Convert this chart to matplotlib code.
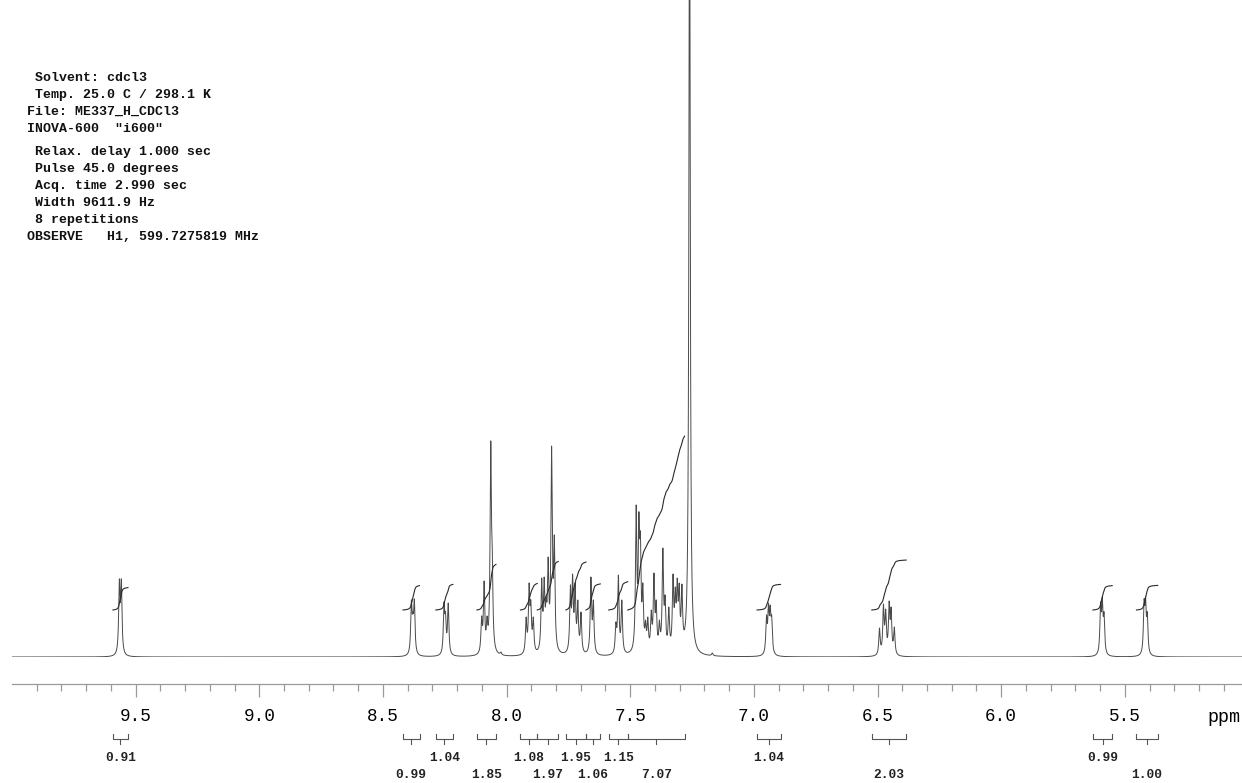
import numpy as np
import matplotlib
matplotlib.use('Agg')
import matplotlib.pyplot as plt
from matplotlib.transforms import blended_transform_factory

plt.rcParams['font.family'] = ['Liberation Mono', 'DejaVu Sans Mono']

# acquisition parameters printed in the top-left corner
header_lines = [
    ' Solvent: cdcl3',
    ' Temp. 25.0 C / 298.1 K',
    'File: ME337_H_CDCl3',
    'INOVA-600  "i600"',
    ' Relax. delay 1.000 sec',
    ' Pulse 45.0 degrees',
    ' Acq. time 2.990 sec',
    ' Width 9611.9 Hz',
    ' 8 repetitions',
    'OBSERVE   H1, 599.7275819 MHz',
]
header_y = [78, 95, 112, 129, 152, 169, 186, 203, 220, 237]  # px from top

# peak list: shift (ppm) and apparent height (px above baseline)
shifts = [
    9.566, 9.558,
    8.385, 8.379, 8.373,
    8.253, 8.247, 8.236,
    8.101, 8.091, 8.079, 8.064, 8.058, 8.023,
    7.921, 7.909, 7.902, 7.892,
    7.858, 7.848, 7.840, 7.832, 7.818, 7.807,
    7.742, 7.733, 7.723, 7.712, 7.699,
    7.659, 7.649,
    7.558, 7.548, 7.534,
    7.476, 7.465, 7.459, 7.449, 7.438, 7.429, 7.415, 7.404, 7.395,
    7.382, 7.368, 7.359, 7.344, 7.327, 7.318, 7.310, 7.302, 7.291,
    7.260, 7.168,
    6.949, 6.941, 6.934, 6.928,
    6.492, 6.476, 6.467, 6.453, 6.445, 6.432,
    5.598, 5.591, 5.584,
    5.422, 5.416, 5.409,
]
heights = [
    78, 78,
    57, 45, 58,
    55, 45, 54,
    41, 76, 41, 216, 110, 5,
    40, 74, 57, 40,
    79, 80, 60, 100, 211, 122,
    72, 83, 74, 57, 45,
    80, 57,
    35, 82, 57,
    152, 145, 125, 74, 37, 40, 47, 84, 57,
    37, 109, 62, 50, 83, 70, 79, 74, 73,
    800, 4,
    42, 54, 52, 42,
    29, 53, 48, 56, 50, 30,
    55, 60, 45,
    58, 60, 45,
]
line_width = 0.0065  # FWHM, ppm

# integral regions (ppm), values and label row
int_start = [9.592, 8.419, 8.286, 8.120, 7.944, 7.876, 7.760, 7.679, 7.587, 7.510, 6.987, 6.523, 5.629, 5.453]
int_end = [9.531, 8.352, 8.217, 8.043, 7.876, 7.791, 7.679, 7.621, 7.510, 7.280, 6.892, 6.384, 5.551, 5.367]
int_value = [0.91, 0.99, 1.04, 1.85, 1.08, 1.97, 1.95, 1.06, 1.15, 7.07, 1.04, 2.03, 0.99, 1.00]
int_row = [0, 1, 0, 1, 0, 1, 0, 1, 0, 1, 0, 1, 0, 1]

major_ticks = [9.5, 9.0, 8.5, 8.0, 7.5, 7.0, 6.5, 6.0, 5.5]
minor_ticks = [round(10.0 - 0.1 * i, 1) for i in range(1, 50)]

W, H = 1242, 783
line_col = '#4a4a4a'
axis_col = '#9a9a9a'


def lorentz(x, x0):
    return 1.0 / (1.0 + ((x - x0) / (line_width / 2)) ** 2)


# build the trace so that each line hits its read height
pos = np.array(shifts)
hgt = np.array(heights, dtype=float)
amp = np.clip(np.linalg.solve(lorentz(pos[:, None], pos[None, :]), hgt), 0, None)
ppm = np.linspace(10.0, 5.0, 40000)
spec = (amp[None, :] * lorentz(ppm[:, None], pos[None, :])).sum(axis=1)

fig = plt.figure(figsize=(W / 100, H / 100), dpi=100)
ax = fig.add_axes([12 / W, (H - 657) / H, 1230 / W, 657 / H])
ax.patch.set_visible(False)
ax.set_xlim(10.0, 5.026)
ax.set_ylim(0, 657)

ax.plot(ppm, spec, color=line_col, lw=0.7)

# integral traces, each reset to the same start level
int_base, int_scale = 47, 24.6
for s, e, v in zip(int_start, int_end, int_value):
    m = (ppm <= s) & (ppm >= e)
    c = np.cumsum(spec[m])
    c = c / c[-1] * v * int_scale + int_base
    ax.plot(ppm[m], c, color='#2a2a2a', lw=0.8)

# ppm scale
for side in ['top', 'left', 'right']:
    ax.spines[side].set_visible(False)
ax.spines['bottom'].set_position(('outward', 19.4))
ax.spines['bottom'].set_color(axis_col)
ax.spines['bottom'].set_linewidth(0.9)
ax.set_yticks([])
ax.set_xticks(major_ticks)
ax.set_xticklabels(['%.1f' % t for t in major_ticks])
ax.set_xticks(minor_ticks, minor=True)
ax.tick_params(axis='x', which='major', direction='out', length=9.4, width=0.9,
               color=axis_col, pad=8, labelsize=12.7)
ax.tick_params(axis='x', which='minor', direction='out', length=5, width=0.9, color=axis_col)
fig.text(1224 / W, 1 - 717 / H, 'ppm', ha='center', va='center', fontsize=13.2)

# integral brackets and values
trans = blended_transform_factory(ax.transData, fig.transFigure)
yb = 1 - 739 / H
yup = 1 - 734 / H
ydn = 1 - 744 / H
for s, e, v, r in zip(int_start, int_end, int_value, int_row):
    mid = (s + e) / 2
    ax.plot([s, s, e, e], [yup, yb, yb, yup], color='#555555', lw=0.8,
            transform=trans, clip_on=False)
    ax.plot([mid, mid], [yb, ydn], color='#555555', lw=0.8, transform=trans, clip_on=False)
    ty = 758 if r == 0 else 775
    ax.text(mid, 1 - ty / H, '%.2f' % v, transform=trans, ha='center', va='center',
            fontsize=9.3, fontweight='bold', color='#222222')

for line, y in zip(header_lines, header_y):
    fig.text(26.7 / W, 1 - y / H, line, ha='left', va='center', fontsize=9.5,
             fontweight='bold', color='#111111')

fig.savefig('out.png', dpi=100)
